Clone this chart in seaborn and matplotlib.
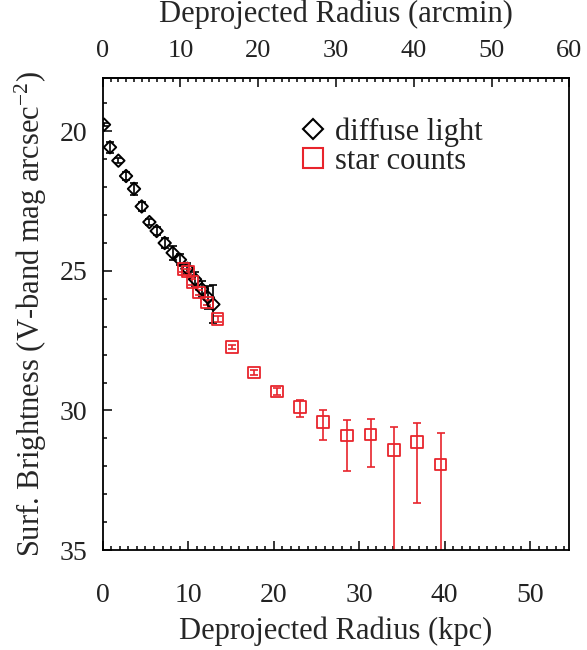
import numpy as np
import pandas as pd
import matplotlib
matplotlib.use("Agg")
import matplotlib.pyplot as plt
import seaborn as sns
from matplotlib.lines import Line2D
from matplotlib.ticker import MultipleLocator

# Surface-brightness profile from integrated (diffuse) light
diffuse_r = [0.15, 0.85, 1.83, 2.73, 3.66, 4.56, 5.46, 6.31, 7.25, 8.18,
             9.04, 9.9, 10.8, 11.6, 12.3, 12.95]
diffuse_mu = [19.76, 20.57, 21.05, 21.6, 22.06, 22.69, 23.25, 23.57, 24.0,
              24.35, 24.6, 24.92, 25.3, 25.65, 25.95, 26.2]
diffuse_err = [0.05, 0.2, 0.1, 0.15, 0.22, 0.15, 0.12, 0.15, 0.18, 0.25,
               0.2, 0.2, 0.25, 0.3, 0.4, 0.68]

# Surface-brightness profile from resolved star counts
stars_r = [9.43, 10.0, 10.5, 11.26, 12.23, 13.45, 15.13, 17.7, 20.42,
           23.08, 25.8, 28.6, 31.34, 34.07, 36.76, 39.53]
stars_mu = [24.94, 25.02, 25.39, 25.77, 26.13, 26.73, 27.73, 28.64, 29.32,
            29.88, 30.42, 30.9, 30.86, 31.41, 31.13, 31.94]
stars_err_bright = [0.1, 0.1, 0.1, 0.1, 0.1, 0.1, 0.08, 0.1, 0.14,
                    0.27, 0.42, 0.56, 0.56, 0.80, 0.67, 1.13]
stars_err_faint = [0.1, 0.1, 0.1, 0.1, 0.1, 0.1, 0.08, 0.1, 0.14,
                   0.36, 0.63, 1.28, 1.18, 8.0, 2.19, 8.0]

legend_labels = ["diffuse light", "star counts"]

KPC_PER_ARCMIN = 0.91
RED = "#e8242c"

sns.set_theme(style="ticks")
plt.rcParams["font.family"] = ["Liberation Serif", "DejaVu Serif"]
plt.rcParams["mathtext.fontset"] = "custom"
plt.rcParams["mathtext.rm"] = "Liberation Serif"
plt.rcParams["mathtext.it"] = "Liberation Serif:italic"
plt.rcParams["text.color"] = "#222222"

fig = plt.figure(figsize=(5.87, 6.5), dpi=100)
ax = fig.add_axes([0.175, 0.1538, 0.7949, 0.7257])

diffuse = pd.DataFrame({"r": diffuse_r, "mu": diffuse_mu})
stars = pd.DataFrame({"r": stars_r, "mu": stars_mu})

# error bars
ax.errorbar(diffuse_r, diffuse_mu, yerr=diffuse_err, fmt="none",
            ecolor="black", elinewidth=1.2, capsize=3, capthick=1.2, zorder=2)
ax.errorbar(stars_r, stars_mu, yerr=[stars_err_bright, stars_err_faint],
            fmt="none", ecolor=RED, elinewidth=1.2, capsize=3, capthick=1.2,
            zorder=2)

# markers
sns.scatterplot(data=diffuse, x="r", y="mu", marker="D", s=40,
                facecolors="none", edgecolor="black", linewidth=1.4,
                ax=ax, zorder=3, legend=False)
sns.scatterplot(data=stars, x="r", y="mu", marker="s", s=70,
                facecolors="none", edgecolor=RED, linewidth=1.3,
                ax=ax, zorder=4, legend=False)

ax.set_xlim(0, 54.6)
ax.set_ylim(35, 18.1)

ax.xaxis.set_major_locator(MultipleLocator(10))
ax.xaxis.set_minor_locator(MultipleLocator(1))
ax.yaxis.set_major_locator(MultipleLocator(5))
ax.yaxis.set_minor_locator(MultipleLocator(1))

for s in ax.spines.values():
    s.set_linewidth(1.3)
    s.set_color("black")

ax.tick_params(which="both", direction="in", top=False, right=False,
               color="black", width=1.1)
ax.tick_params(which="major", length=6.5)
ax.tick_params(which="minor", length=3)
ax.tick_params(axis="x", which="major", pad=24, labelsize=20,
               labelcolor="#222222")
ax.tick_params(axis="y", which="major", pad=11, labelsize=20,
               labelcolor="#222222")

ax.set_xlabel("Deprojected Radius (kpc)", fontsize=22, labelpad=6)
ax.set_ylabel("Surf. Brightness (V-band mag arcsec$^{-2}$)", fontsize=22,
              labelpad=8)

top = ax.secondary_xaxis("top", functions=(lambda x: x / KPC_PER_ARCMIN,
                                            lambda a: a * KPC_PER_ARCMIN))
top.xaxis.set_major_locator(MultipleLocator(10))
top.xaxis.set_minor_locator(MultipleLocator(1))
top.tick_params(which="both", direction="in", color="black", width=1.1)
top.tick_params(which="major", length=6.5, pad=12, labelsize=19,
                labelcolor="#222222")
top.tick_params(which="minor", length=3)
top.spines["top"].set_linewidth(1.3)
top.set_xlabel("Deprojected Radius (arcmin)", fontsize=22, labelpad=13)

handles = [
    Line2D([], [], marker="D", ls="none", markersize=10, mfc="none",
           mec="black", mew=1.5),
    Line2D([], [], marker="s", ls="none", markersize=14, mfc="none",
           mec=RED, mew=1.5),
]
ax.legend(handles, legend_labels, loc="center left",
          bbox_to_anchor=(0.425, 0.856), frameon=False, fontsize=22,
          handlelength=0.8, handletextpad=0.3, labelspacing=0.0,
          borderpad=0, borderaxespad=0)

fig.savefig("out.png", dpi=100)
